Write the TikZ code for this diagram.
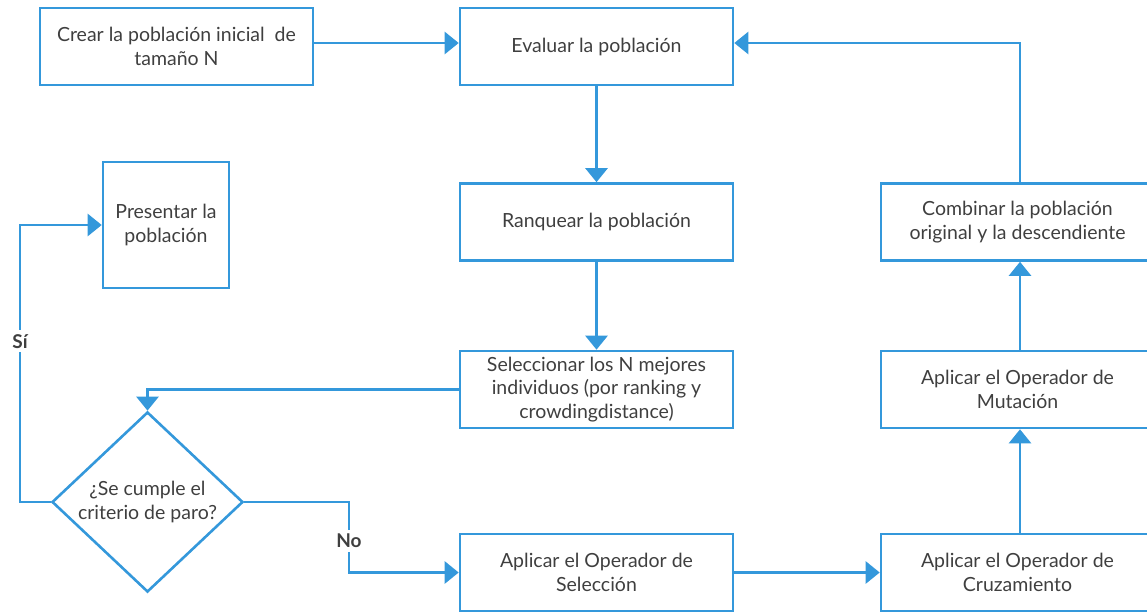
\documentclass[tikz,border=0pt]{standalone}
\usepackage{fontspec}
\setmainfont{Lato}
\usetikzlibrary{shapes.geometric,arrows.meta}
\definecolor{flow}{HTML}{3498DB}
\definecolor{ink}{HTML}{3F3F3F}

\begin{document}
\begin{tikzpicture}[x=1pt,y=-1pt,
  txt/.style={text=ink,font=\fontsize{19.5}{23.5}\selectfont,align=center},
  box/.style={txt,draw=flow,line width=2.6pt,minimum width=273pt,minimum height=77pt,inner sep=0pt},
  smallbox/.style={box,minimum width=126pt,minimum height=126pt},
  decision/.style={txt,draw=flow,line width=2.6pt,diamond,minimum width=191pt,minimum height=177pt,inner sep=0pt},
  link/.style={draw=flow,line width=2.6pt,-{Triangle[length=14pt,width=22pt]}},
  tag/.style={text=ink,font=\fontsize{19}{22}\selectfont\bfseries,fill=white,inner sep=4pt}]

\useasboundingbox (0,0) rectangle (1147,613);
\clip (0,0) rectangle (1147,613);

% process boxes
\node[box] (crear) at (176.5,46.5) {Crear la población inicial\ \ de\\tamaño N};
\node[box] (eval)  at (596.5,46.5) {Evaluar la población};
\node[box] (rank)  at (596.5,222)  {Ranquear la población};
\node[box] (sel)   at (596.5,389.5) {Seleccionar los N mejores\\individuos (por ranking y\\crowdingdistance)};
\node[box] (opsel) at (596.5,572.5) {Aplicar el Operador de\\Selección};
\node[box] (cruz)  at (1017.5,572.5) {Aplicar el Operador de\\Cruzamiento};
\node[box] (mut)   at (1017.5,389.5) {Aplicar el Operador de\\Mutación};
\node[box] (comb)  at (1017.5,222)  {Combinar la población\\original y la descendiente};
\node[smallbox] (pres) at (166,225) {Presentar la\\población};

% stop criterion
\node[decision] (crit) at (147.5,502) {¿Se cumple el\\criterio de paro?};

% connectors
\draw[link] (crear.east |- 0,43) -- (eval.west |- 0,43);
\draw[link] (eval.south) -- (rank.north);
\draw[link] (rank.south) -- (sel.north);
\draw[link] (sel.west) -| (crit.north);
\draw[link] (crit.west) -- (20,502) -- (20,225) node[tag,pos=0.58] {Sí} -- (pres.west);
\draw[link] (crit.east) -- (349,502) -- (349,572.5) node[tag,pos=0.55] {No} -- (opsel.west);
\draw[link] (opsel.east) -- (cruz.west);
\draw[link] (cruz.north -| 1020,0) -- (mut.south -| 1020,0);
\draw[link] (mut.north -| 1020,0) -- (comb.south -| 1020,0);
\draw[link] (comb.north -| 1020,0) -- (1020,43) -- (eval.east |- 0,43);
\end{tikzpicture}
\end{document}
